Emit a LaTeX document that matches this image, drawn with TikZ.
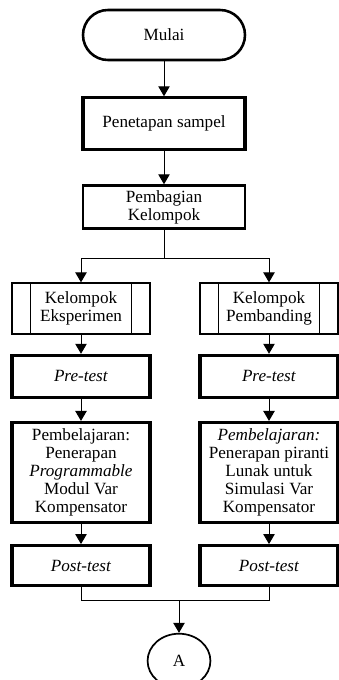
\documentclass[tikz,border=0pt]{standalone}
\usepackage{fontspec}
\setmainfont{Liberation Serif}
\usepackage{tikz}
\usetikzlibrary{arrows.meta,shapes.geometric,positioning}
\tikzstyle{arrow} = [draw=black,line width=0.7pt,-{Triangle[width=8pt,length=7pt]}]
\tikzstyle{line} = [draw=black,line width=0.7pt]
\tikzstyle{terminal} = [draw,rectangle,rounded corners=17.5pt,line width=1.8pt,minimum width=113.4pt,minimum height=35pt]
\tikzstyle{process} = [draw,rectangle,line width=2.2pt,align=center,inner sep=2pt]
\tikzstyle{group} = [draw,rectangle,line width=1pt,align=center,minimum width=96.6pt,minimum height=35.7pt]
\tikzstyle{connector} = [draw,ellipse,line width=1.2pt,minimum width=44pt,minimum height=38pt]

\begin{document}
\begin{tikzpicture}[node distance=14pt,font=\fontsize{12}{12.6}\selectfont]
            \useasboundingbox (0,0) rectangle (236.6pt,-476pt);

            \node (mulai) [terminal] at (114.8pt,-24.5pt) {Mulai};
            \node (sampel) [process, minimum width=113.4pt, minimum height=36.4pt] [below=24.5pt of mulai] {Penetapan sampel};
            \node (bagi) [process, line width=1.8pt, minimum width=113.4pt, minimum height=30pt] [below=23pt of sampel] {Pembagian\\Kelompok};
            \coordinate [below=20.3pt of bagi] (split);

            % kelompok eksperimen
            \node (eks) [group] at (56.7pt,-216pt) {Kelompok\\Eksperimen};
            \node (preE) [process, minimum width=96.6pt, minimum height=29.4pt] [below=13.3pt of eks] {\textit{Pre-test}};
            \node (ajarE) [process, minimum width=96.6pt, minimum height=70pt] [below=15.4pt of preE] {Pembelajaran:\\Penerapan\\\textit{Programmable}\\Modul Var\\Kompensator};
            \node (postE) [process, minimum width=96.6pt, minimum height=28pt] [below=of ajarE] {\textit{Post-test}};

            % kelompok pembanding
            \node (bdg) [group] at (188.3pt,-216pt) {Kelompok\\Pembanding};
            \node (preP) [process, minimum width=96.6pt, minimum height=29.4pt] [below=13.3pt of bdg] {\textit{Pre-test}};
            \node (ajarP) [process, minimum width=96.6pt, minimum height=70pt] [below=15.4pt of preP] {\textit{Pembelajaran:}\\Penerapan piranti\\Lunak untuk\\Simulasi Var\\Kompensator};
            \node (postP) [process, minimum width=96.6pt, minimum height=28pt] [below=of ajarP] {\textit{Post-test}};

            \coordinate (merge) at (125.3pt,-420pt);
            \node (A) [connector] [below=23pt of merge] {A};

            % garis samping kelompok
            \foreach \n in {eks,bdg} {
                \draw[line width=1pt] ([xshift=13.3pt]\n.north west) -- ([xshift=13.3pt]\n.south west);
                \draw[line width=1pt] ([xshift=-13.3pt]\n.north east) -- ([xshift=-13.3pt]\n.south east);
            }

            \draw[arrow] (mulai) -- (sampel);
            \draw[arrow] (sampel) -- (bagi);
            \draw[line] (bagi) -- (split);
            \draw[arrow] (split) -| (eks);
            \draw[arrow] (split) -| (bdg);

            \draw[arrow] (eks) -- (preE);
            \draw[arrow] (preE) -- (ajarE);
            \draw[arrow] (ajarE) -- (postE);
            \draw[arrow] (bdg) -- (preP);
            \draw[arrow] (preP) -- (ajarP);
            \draw[arrow] (ajarP) -- (postP);

            \draw[line] (postE) |- (merge);
            \draw[line] (postP) |- (merge);
            \draw[arrow] (merge) -- (A);
            \end{tikzpicture}
\end{document}
